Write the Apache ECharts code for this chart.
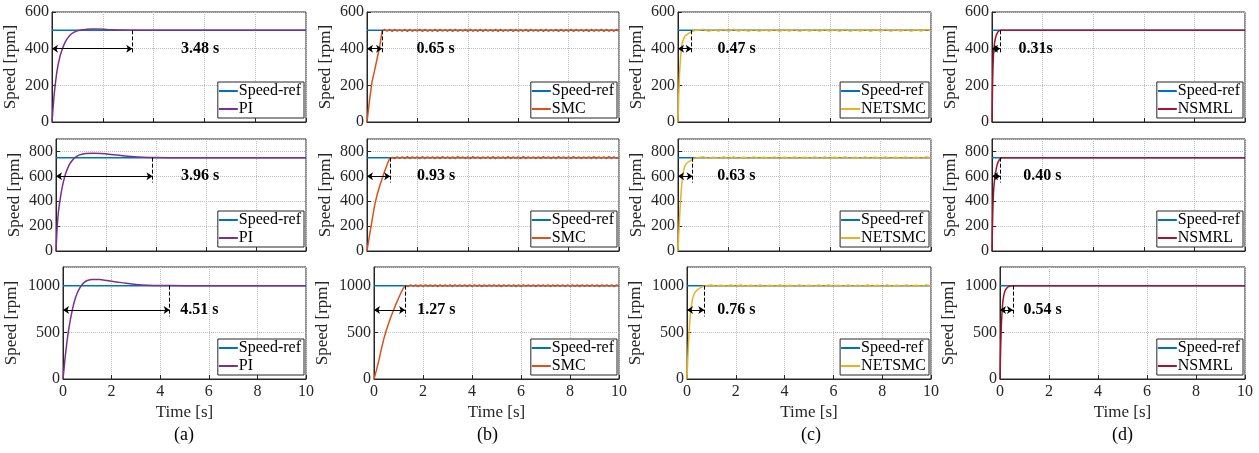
<!DOCTYPE html>
<html>
<head>
<meta charset="utf-8">
<script src="https://cdn.jsdelivr.net/npm/echarts@6/dist/echarts.min.js"></script>
<style>
html, body { margin: 0; padding: 0; background: #fff; }
#chart { width: 1259px; height: 453px; }
</style>
</head>
<body>
<div id="chart"></div>
<script>
// reference speed per row and axis ranges
const refSpeeds = [500, 750, 1000];
const yMaxes = [600, 900, 1200];
const ySteps = [200, 200, 500];
const controllers = ['PI', 'SMC', 'NETSMC', 'NSMRL'];
const panelTags = ['(a)', '(b)', '(c)', '(d)'];

// PI response
const piTime = [0, 0.05, 0.1, 0.2, 0.3, 0.4, 0.5, 0.6, 0.7, 0.8, 0.9, 1.0, 1.2, 1.5, 1.8, 2.2, 2.6, 3.0, 3.5, 4.0, 5, 10];
const piRow1 = [0, 90, 170, 280, 350, 395, 430, 455, 472, 484, 492, 498, 503, 507, 507, 504, 502, 501, 500, 500, 500, 500];
const piRow2 = [0, 200, 320, 460, 560, 630, 680, 715, 740, 757, 768, 775, 783, 785, 783, 776, 767, 759, 753, 751, 750, 750];
const piRow3 = [0, 130, 260, 470, 630, 760, 860, 930, 980, 1015, 1040, 1055, 1066, 1065, 1055, 1040, 1025, 1013, 1005, 1002, 1000, 1000];

// SMC response (chattering after the ramp)
const smcTime = [0, 0.1, 0.2, 0.3, 0.4, 0.5, 0.6, 0.7, 0.8, 0.9,
  1, 1.1, 1.2, 1.3, 1.4, 1.5, 1.6, 1.7, 1.8, 1.9,
  2, 2.1, 2.2, 2.3, 2.4, 2.5, 2.6, 2.7, 2.8, 2.9,
  3, 3.1, 3.2, 3.3, 3.4, 3.5, 3.6, 3.7, 3.8, 3.9,
  4, 4.1, 4.2, 4.3, 4.4, 4.5, 4.6, 4.7, 4.8, 4.9,
  5, 5.1, 5.2, 5.3, 5.4, 5.5, 5.6, 5.7, 5.8, 5.9,
  6, 6.1, 6.2, 6.3, 6.4, 6.5, 6.6, 6.7, 6.8, 6.9,
  7, 7.1, 7.2, 7.3, 7.4, 7.5, 7.6, 7.7, 7.8, 7.9,
  8, 8.1, 8.2, 8.3, 8.4, 8.5, 8.6, 8.7, 8.8, 8.9,
  9, 9.1, 9.2, 9.3, 9.4, 9.5, 9.6, 9.7, 9.8, 9.9, 10];
const smcRow1 = [0, 118, 220, 280, 345, 408, 495,
  505, 495, 506, 494, 505, 496, 504, 495, 506, 494,
  505, 495, 504, 496, 506, 494, 505, 495, 504, 495,
  506, 494, 505, 496, 504, 495, 506, 494, 505, 495,
  504, 496, 506, 494, 505, 495, 504, 495, 506, 494,
  505, 496, 504, 495, 506, 494, 505, 495, 504, 496,
  506, 494, 505, 495, 504, 495, 506, 494, 505, 496,
  504, 495, 506, 494, 505, 495, 504, 496, 506, 494,
  505, 495, 504, 495, 506, 494, 505, 496, 504, 495,
  506, 494, 505, 495, 504, 496, 506, 494, 505, 495,
  504, 495, 506, 494];
const smcRow2 = [0, 125, 245, 365, 450, 520, 580, 640, 695, 745, 752,
  743, 757, 744, 756, 742, 758, 743, 757, 744, 756,
  743, 758, 742, 757, 744, 756, 743, 757, 742, 758,
  744, 756, 743, 757, 742, 758, 744, 756, 743, 757,
  742, 758, 744, 756, 743, 757, 744, 756, 742, 758,
  743, 757, 744, 756, 742, 758, 743, 757, 744, 756,
  743, 758, 742, 757, 744, 756, 743, 757, 742, 758,
  744, 756, 743, 757, 742, 758, 744, 756, 743, 757,
  742, 758, 744, 756, 743, 757, 744, 756, 742, 758,
  743, 757, 744, 756, 742, 758, 743, 757, 744, 756];
const smcRow3 = [0, 95, 200, 320, 430, 520, 600, 672, 740, 805, 865, 922, 975, 1000,
  992, 1008, 993, 1007, 991, 1009, 992, 1008, 993, 1007,
  992, 1009, 991, 1008, 993, 1007, 992, 1008, 991, 1009,
  993, 1007, 992, 1008, 991, 1009, 993, 1007, 992, 1008,
  991, 1009, 993, 1007, 992, 1008, 993, 1007, 991, 1009,
  992, 1008, 993, 1007, 991, 1009, 992, 1008, 993, 1007,
  992, 1009, 991, 1008, 993, 1007, 992, 1008, 991, 1009,
  993, 1007, 992, 1008, 991, 1009, 993, 1007, 992, 1008,
  991, 1009, 993, 1007, 992, 1008, 993, 1007, 991, 1009,
  992, 1008, 993, 1007, 991, 1009, 992];

// NETSMC response (small ripple)
const netTime = [0, 0.05, 0.1, 0.15, 0.2, 0.25, 0.3, 0.4, 0.5, 0.6, 0.7, 0.8,
  1, 1.2, 1.4, 1.6, 1.8, 2, 2.2, 2.4, 2.6, 2.8, 3, 3.2, 3.4, 3.6, 3.8,
  4, 4.2, 4.4, 4.6, 4.8, 5, 5.2, 5.4, 5.6, 5.8, 6, 6.2, 6.4, 6.6, 6.8,
  7, 7.2, 7.4, 7.6, 7.8, 8, 8.2, 8.4, 8.6, 8.8, 9, 9.2, 9.4, 9.6, 9.8, 10];
const netRow1 = [0, 230, 350, 420, 445, 462, 472, 482, 490, 496, 500, 501,
  504, 496, 503, 497, 504, 496, 504, 497, 503, 496,
  504, 496, 503, 497, 504, 496, 503, 497, 504, 496,
  503, 497, 504, 496, 504, 497, 503, 496, 504, 496,
  503, 497, 504, 496, 503, 497, 504, 496, 503, 497,
  504, 496, 503, 497, 504, 496];
const netRow2 = [0, 220, 400, 540, 620, 670, 695, 715, 728, 740, 748, 752,
  755, 745, 754, 746, 755, 745, 755, 746, 754, 745,
  755, 745, 754, 746, 755, 745, 754, 746, 755, 745,
  754, 746, 755, 745, 755, 746, 754, 745, 755, 745,
  754, 746, 755, 745, 754, 746, 755, 745, 754, 746,
  755, 745, 754, 746, 755, 745];
const netRow3 = [0, 320, 560, 720, 820, 880, 915, 950, 970, 985, 995, 1000,
  1006, 994, 1005, 995, 1006, 994, 1006, 995, 1005, 994,
  1006, 994, 1005, 995, 1006, 994, 1005, 995, 1006, 994,
  1005, 995, 1006, 994, 1006, 995, 1005, 994, 1006, 994,
  1005, 995, 1006, 994, 1005, 995, 1006, 994, 1005, 995,
  1006, 994, 1005, 995, 1006, 994];

// NSMRL response
const nsmTime = [0, 0.03, 0.06, 0.1, 0.15, 0.2, 0.25, 0.3, 0.35, 0.4, 0.5, 10];
const nsmRow1 = [0, 250, 370, 430, 465, 483, 493, 498, 500, 500, 500, 500];
const nsmRow2 = [0, 300, 470, 570, 640, 690, 718, 735, 745, 749, 750, 750];
const nsmRow3 = [0, 350, 600, 780, 890, 940, 965, 980, 989, 994, 1000, 1000];

// settling-time annotations: [column][row]
const settleText = [['3.48 s', '3.96 s', '4.51 s'], ['0.65 s', '0.93 s', '1.27 s'], ['0.47 s', '0.63 s', '0.76 s'], ['0.31s', '0.40 s', '0.54 s']];
const settleMark = [[3.16, 3.86, 4.39], [0.6, 0.92, 1.27], [0.54, 0.58, 0.71], [0.32, 0.33, 0.53]];
const textAt = [[5.06, 4.98, 4.8], [1.94, 1.96, 1.74], [1.54, 1.53, 1.22], [1.03, 1.22, 0.94]];
const arrowLevel = [400, 600, 740];
const dashEnd = [370, 550, 670];

const zip = (t, v) => t.map((x, i) => [x, v[i]]);
const responses = [
  [zip(piTime, piRow1), zip(piTime, piRow2), zip(piTime, piRow3)],
  [zip(smcTime, smcRow1), zip(smcTime, smcRow2), zip(smcTime, smcRow3)],
  [zip(netTime, netRow1), zip(netTime, netRow2), zip(netTime, netRow3)],
  [zip(nsmTime, nsmRow1), zip(nsmTime, nsmRow2), zip(nsmTime, nsmRow3)]
];

const colors = ['#7E2F8E', '#D95319', '#EDB120', '#A2142F'];
const refColor = '#0072BD';
const font = 'Liberation Serif';
const ink = '#262626';

// pixel layout of the 3x4 panels
const W = 1259, H = 453;
const colLeft = [[52, 56, 63], [367, 367, 374], [678, 678, 687], [992, 992, 1000]];
const colRight = [306, 619, 931, 1245];
const rowTop = [12, 139, 267];
const rowBottom = [122, 251, 379];
const tagX = [185, 488, 812, 1123];

const myChart = echarts.init(document.getElementById('chart'));
const grid = [], xAxis = [], yAxis = [], series = [], legend = [], graphic = [];

for (let c = 0; c < 4; c++) {
  for (let r = 0; r < 3; r++) {
    const g = grid.length;
    const lastRow = r === 2;
    grid.push({
      left: colLeft[c][r], top: rowTop[r],
      width: colRight[c] - colLeft[c][r], height: rowBottom[r] - rowTop[r],
      show: true, borderColor: ink, borderWidth: 1, backgroundColor: '#fff'
    });
    xAxis.push({
      type: 'value', gridIndex: g, min: 0, max: 10, interval: 2,
      axisLine: { lineStyle: { color: ink } },
      axisTick: { inside: true, length: 4, lineStyle: { color: ink } },
      axisLabel: { show: lastRow, fontFamily: font, fontSize: 16, color: ink, margin: 5 },
      splitLine: { lineStyle: { type: 'dotted', color: '#bdbdbd' } },
      name: lastRow ? 'Time [s]' : '', nameLocation: 'middle', nameGap: 25,
      nameTextStyle: { fontFamily: font, fontSize: 17, color: ink }
    });
    yAxis.push({
      type: 'value', gridIndex: g, min: 0, max: yMaxes[r], interval: ySteps[r],
      axisLine: { lineStyle: { color: ink } },
      axisTick: { inside: true, length: 4, lineStyle: { color: ink } },
      axisLabel: {
        fontFamily: font, fontSize: 16, color: ink, margin: 3, showMaxLabel: r === 0,
        formatter: v => String(v)
      },
      splitLine: { lineStyle: { type: 'dotted', color: '#bdbdbd' } },
      name: 'Speed [rpm]', nameLocation: 'middle', nameGap: r === 2 ? 43 : 33,
      nameTextStyle: { fontFamily: font, fontSize: 17, color: ink }
    });
    series.push({
      name: 'Speed-ref', type: 'line', xAxisIndex: g, yAxisIndex: g,
      data: [[0, refSpeeds[r]], [10, refSpeeds[r]]],
      symbol: 'none', lineStyle: { color: refColor, width: 1.5 }, itemStyle: { color: refColor }
    });
    const t = settleMark[c][r];
    series.push({
      name: controllers[c], type: 'line', xAxisIndex: g, yAxisIndex: g,
      data: responses[c][r], symbol: 'none', smooth: c === 1 ? false : 0.3,
      lineStyle: { color: colors[c], width: 1.5 }, itemStyle: { color: colors[c] },
      markLine: {
        silent: true, animation: false, label: { show: false },
        lineStyle: { color: '#000', width: 1, type: 'solid' },
        symbol: ['arrow', 'arrow'], symbolSize: 6,
        data: [
          [{ coord: [0, arrowLevel[r]] }, { coord: [t, arrowLevel[r]] }],
          [{ coord: [t, refSpeeds[r]], symbol: 'none', lineStyle: { type: 'dashed', color: '#000', width: 1 } },
           { coord: [t, dashEnd[r]], symbol: 'none' }]
        ]
      },
      markPoint: {
        silent: true, animation: false,
        symbol: 'circle', symbolSize: 1, itemStyle: { color: 'rgba(0,0,0,0)' },
        label: {
          show: true, position: 'right', distance: 0, formatter: settleText[c][r],
          fontFamily: font, fontSize: 16, fontWeight: 'bold', color: '#000'
        },
        data: [{ coord: [textAt[c][r], arrowLevel[r]] }]
      }
    });
    legend.push({
      data: ['Speed-ref', controllers[c]], selectedMode: false,
      orient: 'vertical', right: W - colRight[c] + 2, bottom: H - rowBottom[r] + 4,
      backgroundColor: '#fff', borderColor: ink, borderWidth: 1, borderRadius: 0,
      padding: [1, 3, 1, 1], itemGap: 2, itemWidth: 19, itemHeight: 2, icon: 'rect',
      textStyle: { fontFamily: font, fontSize: 16, color: '#000', padding: [0, 0, 0, -4] }
    });
  }
  graphic.push({
    type: 'text', left: tagX[c] - 11, top: 426,
    style: { text: panelTags[c], font: '18px "Liberation Serif"', fill: '#000' }
  });
}

myChart.setOption({ animation: false, grid, xAxis, yAxis, series, legend, graphic });
</script>
</body>
</html>
